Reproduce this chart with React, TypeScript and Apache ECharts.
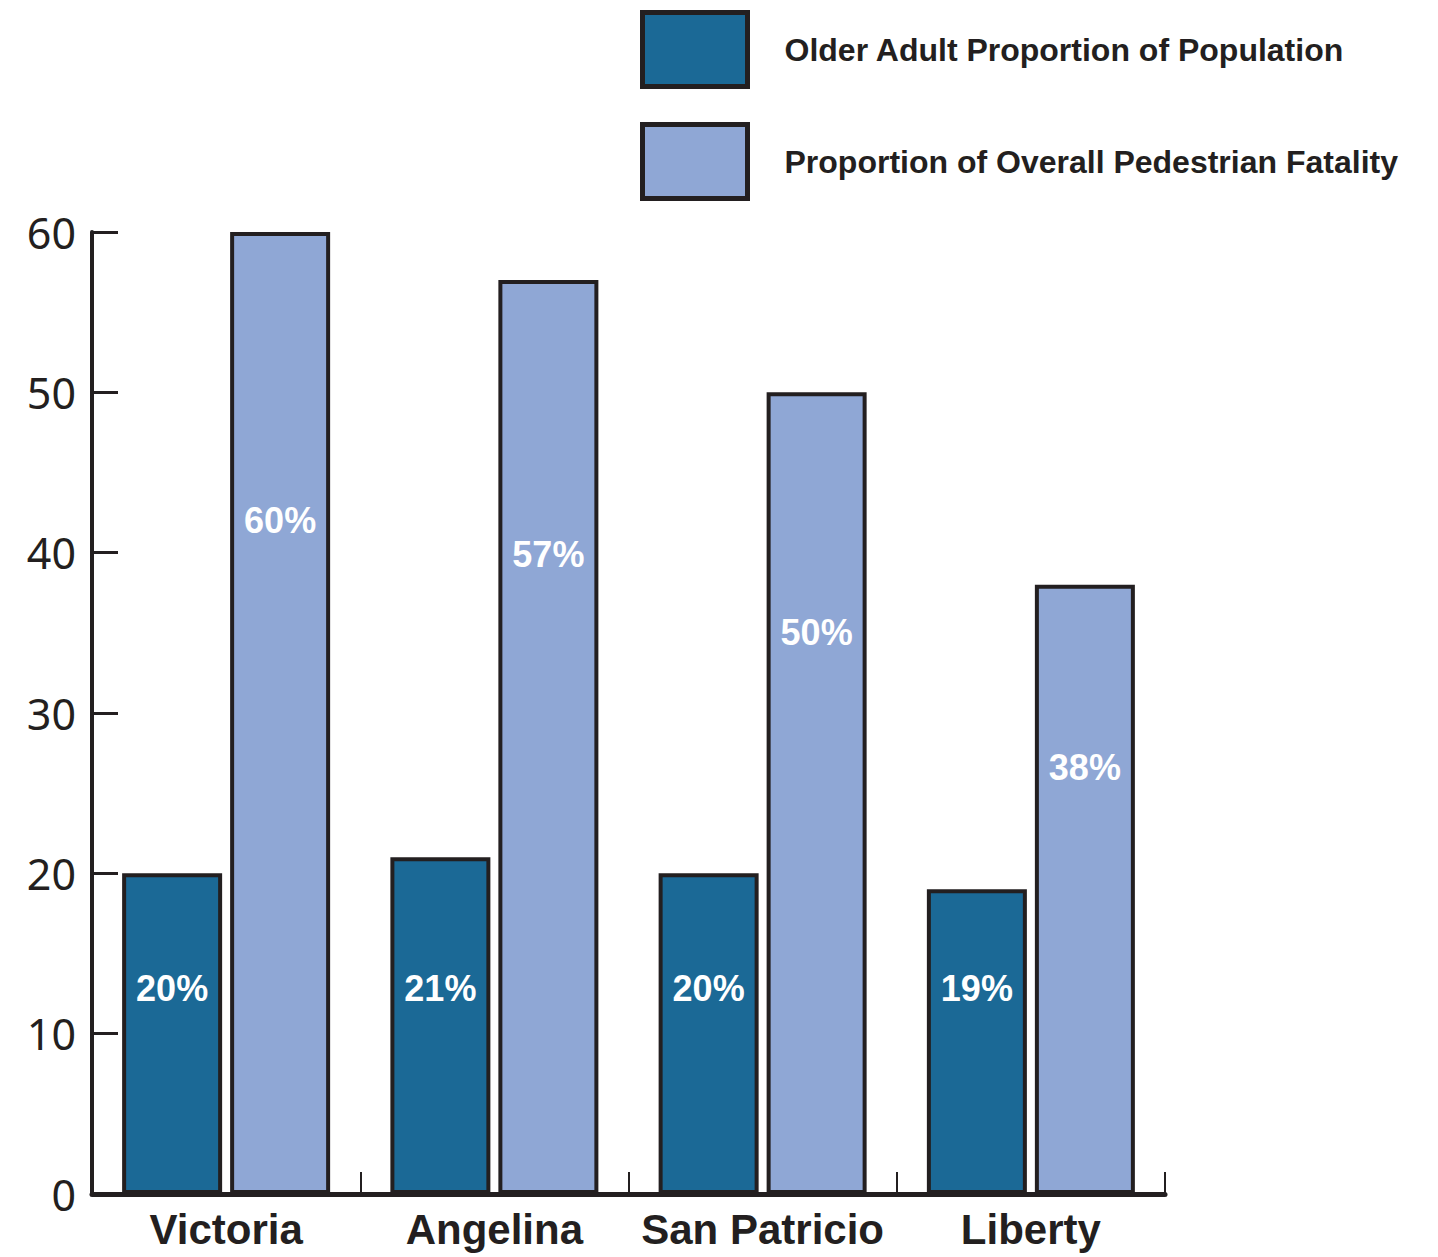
import React, { useEffect, useRef } from "react";
import * as echarts from "echarts";

const categories = ["Victoria", "Angelina", "San Patricio", "Liberty"];
const olderAdultShare = [20, 21, 20, 19];
const pedestrianFatalityShare = [60, 57, 50, 38];
const seriesNames = ["Older Adult Proportion of Population", "Proportion of Overall Pedestrian Fatality"];
const yTicks = { min: 0, max: 60, interval: 10 };

const INK = "#231f20";
const DARK = "#1b6996";
const LIGHT = "#8fa7d5";

export default function App() {
  const ref = useRef<HTMLDivElement>(null);
  useEffect(() => {
    document.body.style.margin = "0";
    const chart = echarts.init(ref.current!, null, { renderer: "svg" });
    const barLabel = {
      show: true,
      color: "#ffffff",
      fontSize: 36,
      fontWeight: "bold" as const,
      fontFamily: "'Liberation Sans', Arial, sans-serif",
      formatter: "{c}%",
    };
    chart.setOption({
      animation: false,
      backgroundColor: "#ffffff",
      legend: {
        orient: "vertical",
        left: 640,
        top: 10,
        padding: 0,
        itemWidth: 105,
        itemHeight: 74,
        itemGap: 33,
        icon: "rect",
        itemStyle: { borderColor: INK, borderWidth: 5 },
        textStyle: {
          fontSize: 32,
          fontWeight: "bold",
          color: INK,
          fontFamily: "'Liberation Sans', Arial, sans-serif",
          padding: [0, 0, 16, 32],
        },
        data: seriesNames,
      },
      grid: { left: 92, right: 273, top: 232, bottom: 63, containLabel: false },
      xAxis: {
        type: "category",
        data: categories,
        axisLine: { lineStyle: { color: INK, width: 5 } },
        axisTick: { show: true, inside: true, length: 22, interval: 0, lineStyle: { color: INK, width: 2 } },
        axisLabel: {
          color: INK,
          fontSize: 42,
          fontWeight: "bold",
          fontFamily: "'Liberation Sans', Arial, sans-serif",
          margin: 14,
          interval: 0,
        },
      },
      yAxis: {
        type: "value",
        min: yTicks.min,
        max: yTicks.max,
        interval: yTicks.interval,
        splitLine: { show: false },
        axisLine: { show: true, lineStyle: { color: INK, width: 4 } },
        axisTick: { show: true, inside: true, length: 26, lineStyle: { color: INK, width: 3 } },
        axisLabel: {
          color: INK,
          fontSize: 43,
          fontFamily: "'Noto Sans', 'Open Sans', sans-serif",
          margin: 16,
        },
      },
      series: [
        {
          name: seriesNames[0],
          type: "bar",
          data: olderAdultShare,
          barWidth: 100,
          barGap: "8%",
          itemStyle: { color: DARK, borderColor: INK, borderWidth: 4 },
          label: { ...barLabel, position: "insideBottom", distance: 188 },
        },
        {
          name: seriesNames[1],
          type: "bar",
          data: pedestrianFatalityShare,
          barWidth: 100,
          barGap: "8%",
          itemStyle: { color: LIGHT, borderColor: INK, borderWidth: 4 },
          label: { ...barLabel, position: ["50%", "30%"], align: "center", verticalAlign: "middle" },
        },
      ],
    });
    return () => chart.dispose();
  }, []);
  return <div ref={ref} style={{ width: 1438, height: 1257 }} />;
}
